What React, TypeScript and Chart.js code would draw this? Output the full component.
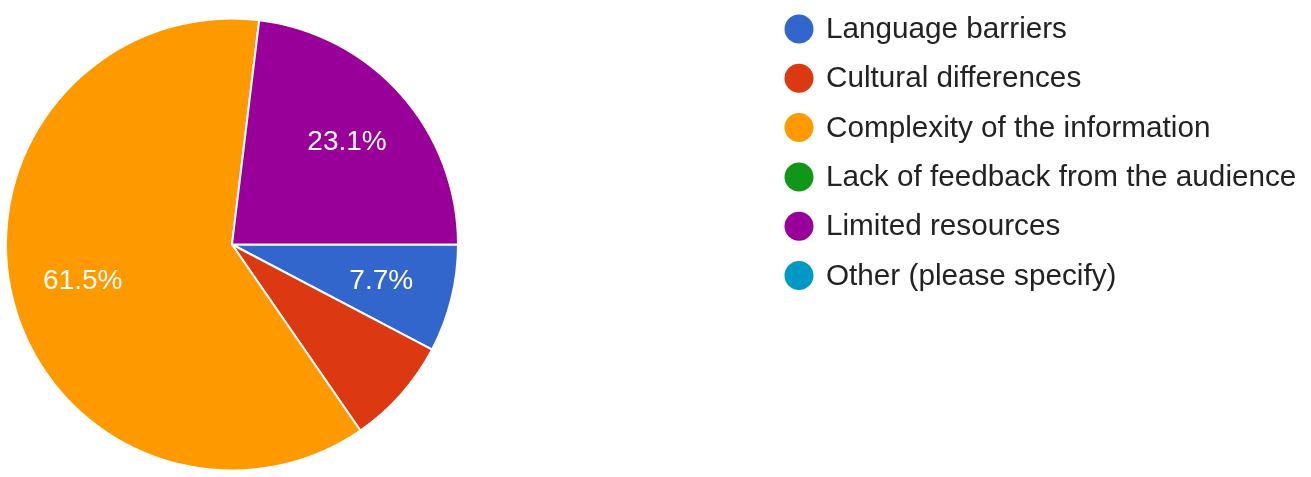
import React, { useEffect, useRef } from "react";
import { Chart, registerables } from "chart.js";

Chart.register(...registerables);

const categories = [
  "Language barriers",
  "Cultural differences",
  "Complexity of the information",
  "Lack of feedback from the audience",
  "Limited resources",
  "Other (please specify)",
];
const responses = [1, 1, 8, 0, 3, 0];
const sliceColors = ["#3366cc", "#dc3912", "#ff9900", "#109618", "#990099", "#0099c6"];
const labelShown = [true, false, true, false, true, false];

const FONT = '"Liberation Sans", Arial, sans-serif';

const sliceLabelPlugin = {
  id: "sliceLabels",
  afterDatasetsDraw(chart: any) {
    const meta = chart.getDatasetMeta(0);
    const data = chart.data.datasets[0].data as number[];
    const total = data.reduce((a: number, b: number) => a + b, 0);
    const ctx = chart.ctx;
    ctx.save();
    ctx.fillStyle = "#ffffff";
    ctx.font = `28px ${FONT}`;
    ctx.textAlign = "center";
    ctx.textBaseline = "middle";
    meta.data.forEach((arc: any, i: number) => {
      if (!labelShown[i] || !data[i]) return;
      const p = arc.getProps(["x", "y", "startAngle", "endAngle", "outerRadius"], true);
      const mid = (p.startAngle + p.endAngle) / 2;
      const r = p.outerRadius * 0.68;
      const pct = ((data[i] / total) * 100).toFixed(1) + "%";
      ctx.fillText(pct, p.x + Math.cos(mid) * r, p.y + Math.sin(mid) * r);
    });
    ctx.restore();
  },
};

const sideLegendPlugin = {
  id: "sideLegend",
  afterDraw(chart: any) {
    const ctx = chart.ctx;
    const labels = chart.data.labels as string[];
    const colors = chart.data.datasets[0].backgroundColor as string[];
    const x0 = 799;
    const y0 = 29;
    const step = 49.3;
    ctx.save();
    ctx.font = `29.7px ${FONT}`;
    ctx.textBaseline = "middle";
    ctx.textAlign = "left";
    labels.forEach((lab, i) => {
      const y = y0 + i * step;
      ctx.beginPath();
      ctx.arc(x0, y, 14.5, 0, Math.PI * 2);
      ctx.fillStyle = colors[i];
      ctx.fill();
      ctx.fillStyle = "#222222";
      ctx.fillText(lab, 826, y + 1);
    });
    ctx.restore();
  },
};

export default function App() {
  const ref = useRef<HTMLCanvasElement>(null);
  useEffect(() => {
    document.body.style.margin = "0";
    const chart = new Chart(ref.current!, {
      type: "pie",
      data: {
        labels: categories,
        datasets: [
          {
            data: responses,
            backgroundColor: sliceColors,
            borderColor: "#ffffff",
            borderWidth: 2,
          },
        ],
      },
      options: {
        responsive: false,
        animation: false,
        rotation: 90,
        layout: { padding: { left: 5, top: 17, right: 852, bottom: 5 } },
        plugins: {
          legend: { display: false },
          tooltip: { enabled: false },
        },
      },
      plugins: [sliceLabelPlugin, sideLegendPlugin],
    });
    return () => chart.destroy();
  }, []);
  return (
    <div style={{ position: "absolute", left: 0, top: 0, width: 1311, height: 477, background: "#fff" }}>
      <canvas ref={ref} width={1311} height={477} />
    </div>
  );
}
